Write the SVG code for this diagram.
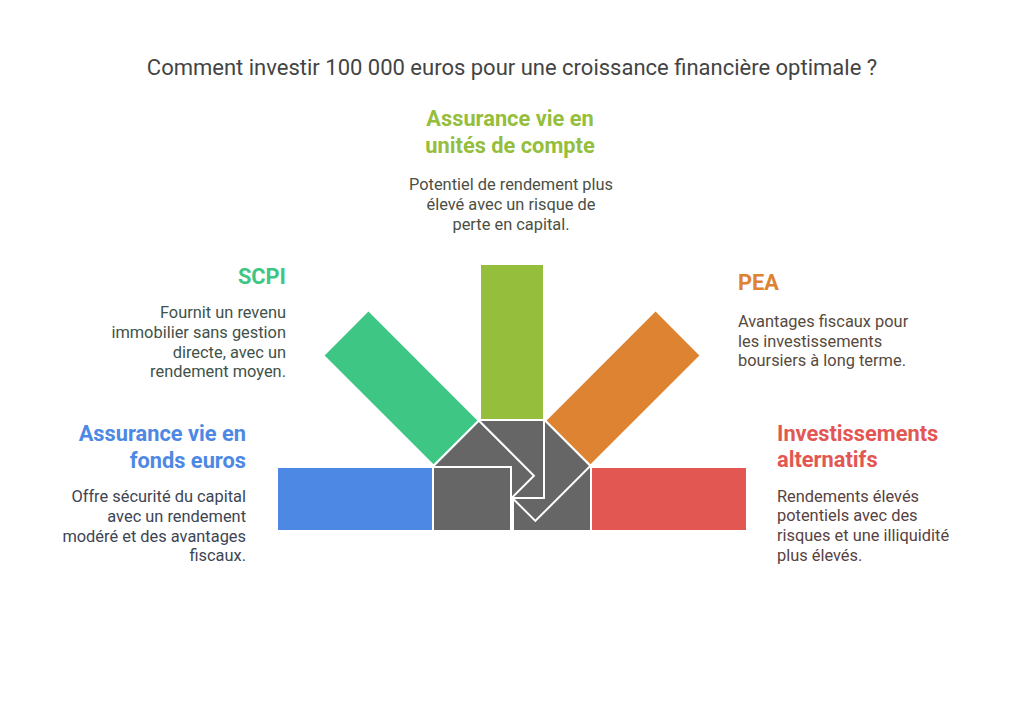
<svg xmlns="http://www.w3.org/2000/svg" width="1024" height="709" viewBox="0 0 1024 709">
<style>
text{font-family:Roboto,"Liberation Sans",sans-serif}
.t{font-size:22px;fill:#444444}
.h{font-size:21.8px;font-weight:bold}
.b{font-size:16.4px}
.g{fill:#666666;stroke:#ffffff;stroke-width:2}
.c{stroke:#ffffff;stroke-width:2}
.m{text-anchor:middle}.e{text-anchor:end}
</style>
<rect width="1024" height="709" fill="#ffffff"/>
<text class="t m" x="512" y="75">Comment investir 100 000 euros pour une croissance financière optimale ?</text>
<g id="bars">
<g id="bar-alternatifs" transform="translate(512,499) rotate(0)">
<rect class="g" x="1" y="-32" width="78" height="64"/>
<rect class="c" x="79" y="-32" width="156" height="64" fill="#E35753"/>
</g>
<g id="bar-pea" transform="translate(512,499) rotate(-45)">
<rect class="g" x="1" y="-32" width="78" height="64"/>
<rect class="c" x="79" y="-32" width="156" height="64" fill="#DD8331"/>
</g>
<g id="bar-uc" transform="translate(512,499) rotate(-90)">
<rect class="g" x="1" y="-32" width="78" height="64"/>
<rect class="c" x="79" y="-32" width="156" height="64" fill="#94BE3C"/>
</g>
<g id="bar-scpi" transform="translate(512,499) rotate(-135)">
<rect class="g" x="1" y="-32" width="78" height="64"/>
<rect class="c" x="79" y="-32" width="156" height="64" fill="#3EC685"/>
</g>
<g id="bar-fonds-euros" transform="translate(512,499) rotate(180)">
<rect class="g" x="1" y="-32" width="78" height="64"/>
<rect class="c" x="79" y="-32" width="156" height="64" fill="#4D88E4"/>
</g>
</g>
<g id="node-uc">
<text class="h m" x="510" y="126" fill="#94BE3C">Assurance vie en</text>
<text class="h m" x="510" y="153" fill="#94BE3C">unités de compte</text>
<text class="b m" x="511" y="190" fill="#4B5045">Potentiel de rendement plus</text>
<text class="b m" x="511" y="210" fill="#4B5045">élevé avec un risque de</text>
<text class="b m" x="511" y="230" fill="#4B5045">perte en capital.</text>
</g>
<g id="node-scpi">
<text class="h e" x="286" y="284" fill="#3EC685">SCPI</text>
<text class="b e" x="286" y="318" fill="#3F524A">Fournit un revenu</text>
<text class="b e" x="286" y="338" fill="#3F524A">immobilier sans gestion</text>
<text class="b e" x="286" y="358" fill="#3F524A">directe, avec un</text>
<text class="b e" x="286" y="377" fill="#3F524A">rendement moyen.</text>
</g>
<g id="node-fonds-euros">
<text class="h e" x="246" y="441" fill="#4D88E4">Assurance vie en</text>
<text class="h e" x="246" y="468" fill="#4D88E4">fonds euros</text>
<text class="b e" x="246" y="502" fill="#3D4554">Offre sécurité du capital</text>
<text class="b e" x="246" y="522" fill="#3D4554">avec un rendement</text>
<text class="b e" x="246" y="542" fill="#3D4554">modéré et des avantages</text>
<text class="b e" x="246" y="561" fill="#3D4554">fiscaux.</text>
</g>
<g id="node-pea">
<text class="h" x="738" y="290" fill="#DD8331">PEA</text>
<text class="b" x="738" y="327" fill="#574A3E">Avantages fiscaux pour</text>
<text class="b" x="738" y="347" fill="#574A3E">les investissements</text>
<text class="b" x="738" y="366" fill="#574A3E">boursiers à long terme.</text>
</g>
<g id="node-alternatifs">
<text class="h" x="777" y="441" fill="#E35753">Investissements</text>
<text class="h" x="777" y="467" fill="#E35753">alternatifs</text>
<text class="b" x="777" y="502" fill="#574242">Rendements élevés</text>
<text class="b" x="777" y="521" fill="#574242">potentiels avec des</text>
<text class="b" x="777" y="541" fill="#574242">risques et une illiquidité</text>
<text class="b" x="777" y="561" fill="#574242">plus élevés.</text>
</g>
</svg>
